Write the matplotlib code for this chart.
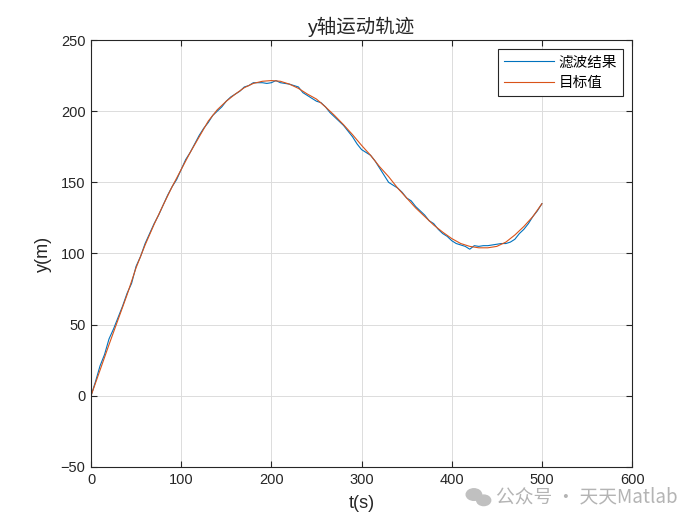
import numpy as np
import matplotlib
matplotlib.use('Agg')
import matplotlib.pyplot as plt

plt.rcParams['font.family'] = ['Liberation Sans', 'Noto Sans CJK SC', 'DejaVu Sans']

# target trajectory, every 10 s
t_target = np.arange(0, 501, 10)
y_target = [0, 18, 36, 53.5, 71, 90, 106, 120.5, 134, 147,
            159, 171, 182, 193, 201, 207, 212, 216.5, 219.5, 221,
            221.5, 221, 219, 216, 212, 208.5, 203, 197, 190.5, 183.5,
            176, 169, 161, 154, 146, 139, 132, 126, 120, 115,
            110.5, 107, 105, 104, 104, 105, 108, 113, 119, 126,
            135]

# filtered result, every 5 s
t_filt = np.arange(0, 501, 5)
y_filt = [0, 10, 21, 29, 40, 47, 55, 63, 72, 79,
          91, 98, 107, 114, 121, 127, 134, 141, 147, 152,
          159, 166, 171, 177, 183, 188, 192, 197, 200, 203,
          207, 210, 212, 214, 217, 218, 220, 220, 220, 219.5,
          220, 221.5, 220, 219.5, 219, 218, 217, 213, 211, 209,
          207, 206, 203, 199, 196, 193, 190, 186, 182, 177,
          173, 171, 169, 165, 160, 155, 150, 148, 146, 143,
          139, 137, 133, 130, 127, 123, 121, 117, 114, 112,
          109, 107, 106, 105, 103, 105.5, 105, 105.5, 105.5, 106,
          106.5, 107, 107, 108, 110, 114, 117, 121, 126, 130,
          135]

fig = plt.figure(figsize=(7, 5.25), dpi=100)
ax = fig.add_axes([0.13, 0.1105, 0.773, 0.8133])

ax.plot(t_filt, y_filt, color='#0072BD', lw=0.8, label='滤波结果')
ax.plot(t_target, y_target, color='#D95319', lw=0.8, label='目标值')

ax.set_xlim(0, 600)
ax.set_ylim(-50, 250)
ax.set_xticks(range(0, 601, 100))
ax.set_yticks(range(-50, 251, 50))
ax.grid(True, color='#dcdcdc', lw=0.7)
ax.set_axisbelow(True)
ax.tick_params(direction='in', top=True, right=True, length=4, labelsize=10.5,
               colors='#262626', pad=4)
for s in ax.spines.values():
    s.set_color('#262626')
    s.set_linewidth(0.8)

ax.set_title('y轴运动轨迹', fontsize=14, color='#262626', pad=5)
ax.set_xlabel('t(s)', fontsize=13, color='#262626', labelpad=6)
ax.set_ylabel('y(m)', fontsize=13, color='#262626', labelpad=6)

leg = ax.legend(loc='upper right', fontsize=10.5, fancybox=False, framealpha=1,
                edgecolor='#262626', handlelength=3.4, borderaxespad=0.6,
                borderpad=0.45, labelspacing=0.45, handletextpad=0.3)
leg.get_frame().set_linewidth(0.8)

# watermark
fig.text(0.968, 0.053, '公众号 · 天天Matlab', fontsize=13.5, color='#b4b4b4',
         ha='right', va='center', family=['Noto Sans CJK SC', 'DejaVu Sans'])
fig.patches.append(plt.Circle((0.677, 0.058), 0.011, transform=fig.transFigure,
                              color='#c0c0c0', zorder=5))
fig.patches.append(plt.Circle((0.691, 0.047), 0.010, transform=fig.transFigure,
                              color='#c0c0c0', zorder=5))

fig.savefig('out.png', dpi=100)
